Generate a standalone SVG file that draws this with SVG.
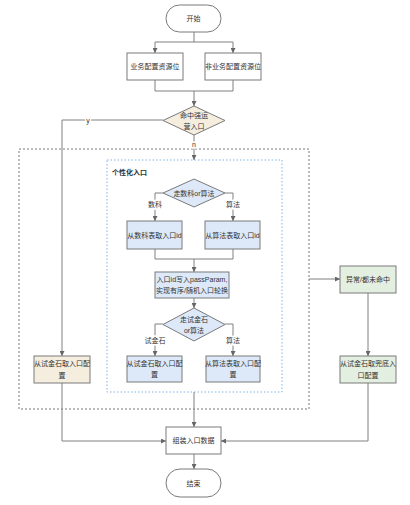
<svg xmlns="http://www.w3.org/2000/svg" width="410" height="505" viewBox="0 0 410 505">
<style>
text{font-family:"Liberation Sans","Noto Sans CJK SC",sans-serif;font-size:7px;fill:#333;text-anchor:middle;dominant-baseline:central}
.n{stroke:#7a7a7a;stroke-width:1}
.w{fill:#fff}
.b{fill:#dde9f8}
.y{fill:#f5eedf}
.g{fill:#e3efe0}
.c path,.c polyline{fill:none;stroke:#808080;stroke-width:1}
.lbl{stroke:#fff;stroke-width:3;paint-order:stroke}
</style>
<defs>
<marker id="a" markerWidth="5" markerHeight="5" refX="5" refY="2.5" orient="auto" markerUnits="userSpaceOnUse">
<path d="M0,0 L5,2.5 L0,5 z" fill="#666"/>
</marker>
</defs>
<rect x="19" y="149" width="290" height="260" fill="none" stroke="#555" stroke-width="0.8" stroke-dasharray="2,2"/>
<rect x="107" y="160" width="175" height="232" fill="none" stroke="#7fb3e6" stroke-width="1" stroke-dasharray="1.5,2"/>
<text x="112" y="172" style="text-anchor:start;font-weight:bold">个性化入口</text>
<g class="c">
<polyline points="194,32 194,42"/>
<polyline points="155,42 233,42"/>
<polyline points="155,42 155,53" marker-end="url(#a)"/>
<polyline points="233,42 233,53" marker-end="url(#a)"/>
<polyline points="155,80 155,91 233,91 233,80"/>
<polyline points="194,91 194,106" marker-end="url(#a)"/>
<polyline points="163,120 62,120 62,356" marker-end="url(#a)"/>
<polyline points="194,135 194,160" marker-end="url(#a)"/>
<polyline points="163,193 155,193 155,221" marker-end="url(#a)"/>
<polyline points="225,193 233,193 233,221" marker-end="url(#a)"/>
<polyline points="155,249 155,259 233,259 233,249"/>
<polyline points="194,259 194,272" marker-end="url(#a)"/>
<polyline points="194,298 194,308" marker-end="url(#a)"/>
<polyline points="163,324 155,324 155,356" marker-end="url(#a)"/>
<polyline points="225,324 233,324 233,356" marker-end="url(#a)"/>
<polyline points="194,392 194,427" marker-end="url(#a)"/>
<polyline points="62,383 62,441 166,441" marker-end="url(#a)"/>
<polyline points="309,279 340,279" marker-end="url(#a)"/>
<polyline points="368,293 368,356" marker-end="url(#a)"/>
<polyline points="368,383 368,441 221,441" marker-end="url(#a)"/>
<polyline points="194,454 194,469" marker-end="url(#a)"/>
<text x="88" y="120" class="lbl">y</text>
<text x="194" y="144" class="lbl">n</text>
<text x="155" y="204" class="lbl">数科</text>
<text x="233" y="204" class="lbl">算法</text>
<text x="155" y="340" class="lbl">试金石</text>
<text x="233" y="340" class="lbl">算法</text>
</g>
<g id="start"><rect x="166" y="5" width="55" height="27" rx="13.5" class="n w"/><text x="193.5" y="18.5">开始</text></g>
<g id="biz"><rect x="127" y="53" width="56" height="27" class="n w"/><text x="155" y="66.5">业务配置资源位</text></g>
<g id="nonbiz"><rect x="205" y="53" width="56" height="27" class="n w"/><text x="233" y="66.5">非业务配置资源位</text></g>
<g id="hit"><polygon points="194,106 225,120.5 194,135 163,120.5" class="n y"/><text x="194" y="115">命中强运</text><text x="194" y="126">营入口</text></g>
<g id="route"><polygon points="194,179 225,193 194,207 163,193" class="n b"/><text x="194" y="193">走数科or算法</text></g>
<g id="dsid"><rect x="127" y="221" width="55" height="28" class="n b"/><text x="154.5" y="235">从数科表取入口id</text></g>
<g id="algid"><rect x="205" y="221" width="55" height="28" class="n b"/><text x="232.5" y="235">从算法表取入口id</text></g>
<g id="pass"><rect x="155" y="272" width="74" height="26" class="n b"/><text x="192" y="279.5">入口id写入passParam,</text><text x="192" y="290.5">实现有序/随机入口轮换</text></g>
<g id="route2"><polygon points="194,308 225,324.5 194,341 163,324.5" class="n b"/><text x="194" y="319">走试金石</text><text x="194" y="330">or算法</text></g>
<g id="sjscfg"><rect x="127" y="356" width="55" height="26" class="n b"/><text x="154.5" y="363.5">从试金石取入口配</text><text x="154.5" y="374.5">置</text></g>
<g id="algcfg"><rect x="206" y="356" width="54" height="26" class="n b"/><text x="233" y="363.5">从算法表取入口配</text><text x="233" y="374.5">置</text></g>
<g id="strongcfg"><rect x="34" y="356" width="56" height="27" class="n y"/><text x="62" y="363.5">从试金石取入口配</text><text x="62" y="375">置</text></g>
<g id="err"><rect x="340" y="266" width="56" height="27" class="n g"/><text x="368" y="279.5">异常/都未命中</text></g>
<g id="fallback"><rect x="340" y="356" width="56" height="27" class="n g"/><text x="368" y="363.5">从试金石取兜底入</text><text x="368" y="375">口配置</text></g>
<g id="assemble"><rect x="166" y="427" width="55" height="27" class="n w"/><text x="193.5" y="440.5">组装入口数据</text></g>
<g id="end"><rect x="166" y="469" width="55" height="28" rx="14" class="n w"/><text x="193.5" y="483">结束</text></g>
</svg>
